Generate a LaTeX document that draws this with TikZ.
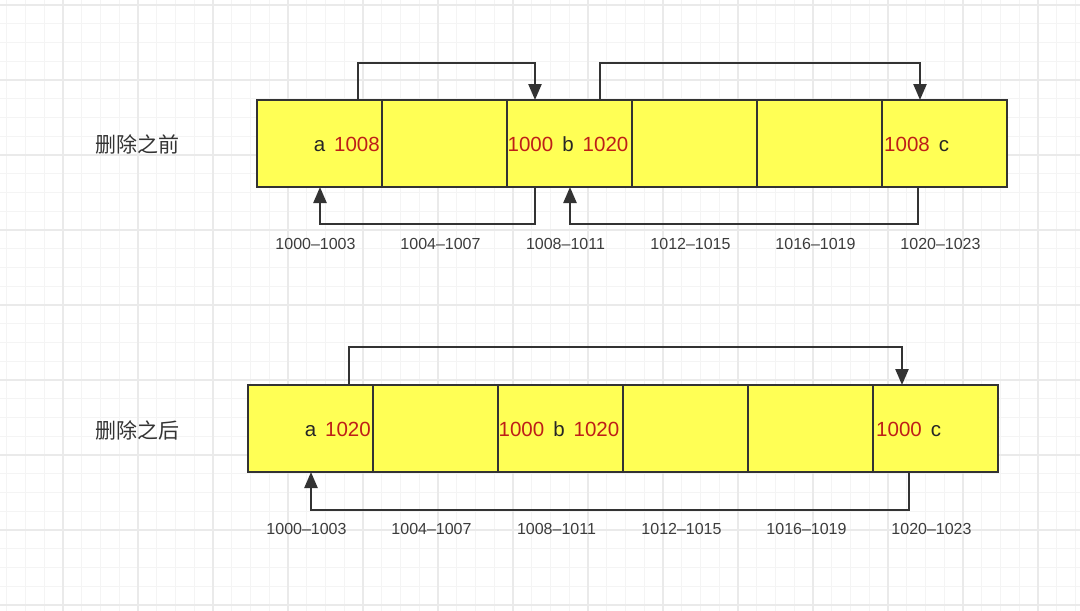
\documentclass[tikz,border=0pt]{standalone}
\usepackage{fontspec}
\setmainfont{Liberation Sans}
\newfontfamily\cjk{Noto Sans CJK SC}
\usetikzlibrary{arrows.meta,calc}
\definecolor{cellfill}{RGB}{255,255,85}
\definecolor{edge}{RGB}{51,51,51}
\definecolor{ptr}{RGB}{190,30,24}
\definecolor{minorgrid}{RGB}{244,244,244}
\definecolor{majorgrid}{RGB}{234,234,234}
\definecolor{labelgray}{RGB}{60,60,60}
\tikzset{
  cell/.style={draw=edge, line width=2.4pt, fill=cellfill, minimum width=125pt, minimum height=87pt, inner sep=0pt, outer sep=0pt},
  val/.style={inner sep=0pt, font=\fontsize{20.5}{22}\selectfont, text=black!85},
  addr/.style={inner sep=0pt, font=\fontsize{16}{18}\selectfont, text=labelgray},
  title/.style={inner sep=0pt, font=\cjk\fontsize{21}{23}\selectfont, text=black!80},
  link/.style={draw=edge, line width=2.4pt, -{Triangle[width=13pt,length=16pt]}},
}
\begin{document}
\begin{tikzpicture}[x=1pt,y=-1pt]
\useasboundingbox (0,0) rectangle (1080,611);
\begin{scope}
\clip (0,0) rectangle (1080,611);
\fill[white] (0,0) rectangle (1080,611);
\foreach \i in {0,...,58} \draw[minorgrid, line width=1pt] ({-12+18.75*\i},0) -- ++(0,611);
\foreach \i in {0,...,33} \draw[minorgrid, line width=1pt] (0,{-13.75+18.75*\i}) -- ++(1080,0);
\foreach \i in {0,...,15} \draw[majorgrid, line width=1.3pt] ({-12+75*\i},0) -- ++(0,611);
\foreach \i in {0,...,8} \draw[majorgrid, line width=1.3pt] (0,{5+75*\i}) -- ++(1080,0);
\end{scope}

% titles
\node[title] (before) at (137,144) {删除之前};
\node[title] (after) at (137,430) {删除之后};

% top row cells
\foreach \n/\x in {1/257,2/382,3/507,4/632,5/757,6/882}
  \node[cell, anchor=north west] (t\n) at (\x,100) {};
% bottom row cells
\foreach \n/\x in {1/248,2/373,3/498,4/623,5/748,6/873}
  \node[cell, anchor=north west] (b\n) at (\x,385) {};

% addresses
\foreach \r/\y in {t/244,b/529} {
  \node[addr] (\r a1) at ([xshift=-4pt]\r1.center |- 0,\y) {1000--1003};
  \node[addr] (\r a2) at ([xshift=-4pt]\r2.center |- 0,\y) {1004--1007};
  \node[addr] (\r a3) at ([xshift=-4pt]\r3.center |- 0,\y) {1008--1011};
  \node[addr] (\r a4) at ([xshift=-4pt]\r4.center |- 0,\y) {1012--1015};
  \node[addr] (\r a5) at ([xshift=-4pt]\r5.center |- 0,\y) {1016--1019};
  \node[addr] (\r a6) at ([xshift=-4pt]\r6.center |- 0,\y) {1020--1023};
}

% values top
\node[val, anchor=east] (tv1) at (380,144) {a\hspace{9pt}\textcolor{ptr}{1008}};
\node[val] (tv3) at (568,144) {\textcolor{ptr}{1000}\hspace{9pt}b\hspace{9pt}\textcolor{ptr}{1020}};
\node[val, anchor=west] (tv6) at (884,144) {\textcolor{ptr}{1008}\hspace{9pt}c};
% values bottom
\node[val, anchor=east] (bv1) at (371,429) {a\hspace{9pt}\textcolor{ptr}{1020}};
\node[val] (bv3) at (559,429) {\textcolor{ptr}{1000}\hspace{9pt}b\hspace{9pt}\textcolor{ptr}{1020}};
\node[val, anchor=west] (bv6) at (876,429) {\textcolor{ptr}{1000}\hspace{9pt}c};

% anchor coordinates for links
\coordinate (s1) at ($(t1.north west)+(101,0)$);
\coordinate (e1) at ($(t3.north west)+(28,0)$);
\coordinate (s2) at ($(t3.north west)+(93,0)$);
\coordinate (e2) at ($(t6.north west)+(38,0)$);
\coordinate (s3) at ($(t3.south west)+(28,0)$);
\coordinate (e3) at ($(t1.south west)+(63,0)$);
\coordinate (s4) at ($(t6.south west)+(36,0)$);
\coordinate (e4) at ($(t3.south west)+(63,0)$);
\coordinate (s5) at ($(b1.north west)+(101,0)$);
\coordinate (e5) at ($(b6.north west)+(29,0)$);
\coordinate (s6) at ($(b6.south west)+(36,0)$);
\coordinate (e6) at ($(b1.south west)+(63,0)$);

\draw[link] (s1) |- (e1 |- 0,63) -- (e1);
\draw[link] (s2) |- (e2 |- 0,63) -- (e2);
\draw[link] (s3) |- (e3 |- 0,224) -- (e3);
\draw[link] (s4) |- (e4 |- 0,224) -- (e4);
\draw[link] (s5) |- (e5 |- 0,347) -- (e5);
\draw[link] (s6) |- (e6 |- 0,510) -- (e6);
\end{tikzpicture}
\end{document}
